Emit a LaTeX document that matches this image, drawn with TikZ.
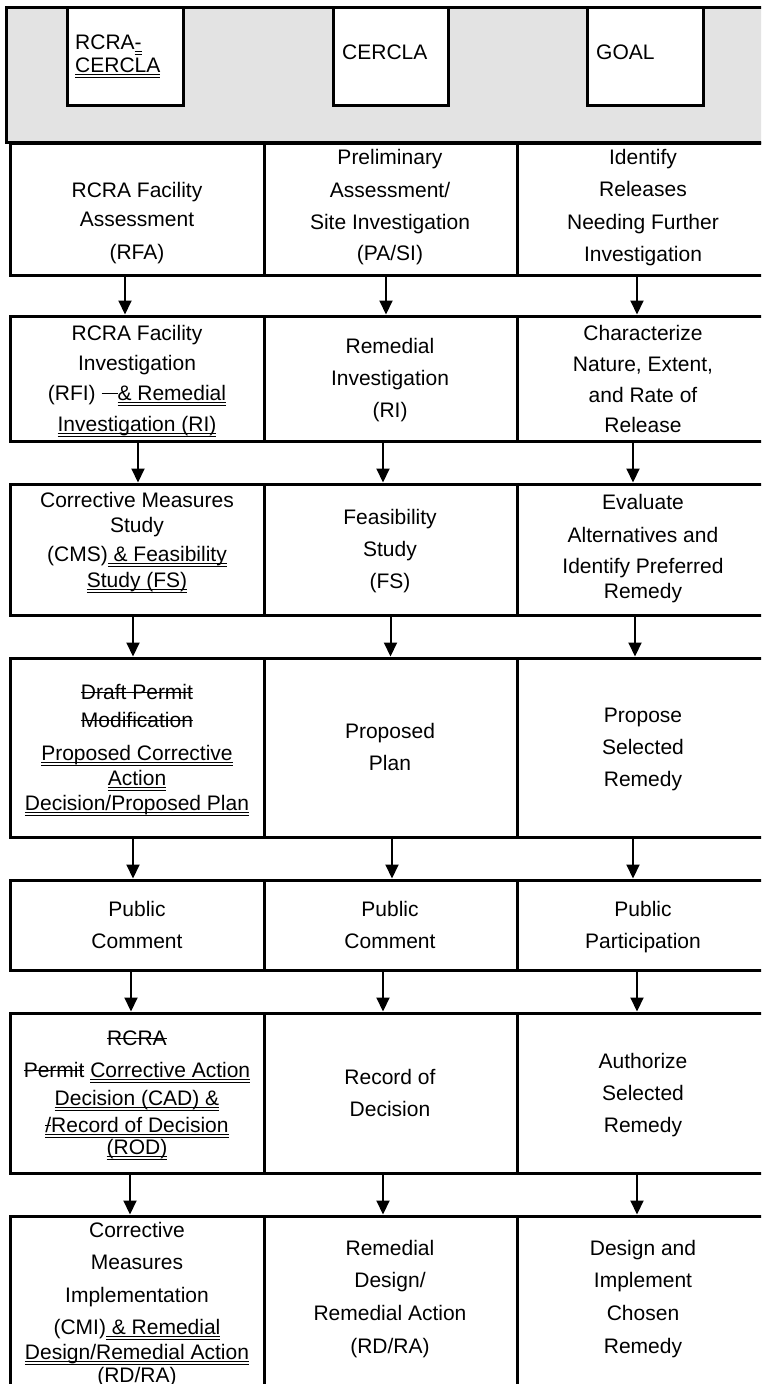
\documentclass[tikz,border=0pt]{standalone}
\usepackage{fontspec}
\setmainfont{Liberation Sans}
\usetikzlibrary{arrows.meta}
\definecolor{hdrgray}{RGB}{227,227,227}
\newsavebox\ulbox
\newcommand\uu[1]{\sbox\ulbox{#1}\rlap{\rule[-3pt]{\wd\ulbox}{0.8pt}}\rlap{\rule[-5.6pt]{\wd\ulbox}{0.8pt}}\usebox\ulbox}
\newcommand\so[1]{\sbox\ulbox{#1}\rlap{\rule[6pt]{\wd\ulbox}{0.9pt}}\usebox\ulbox}
\newcommand\mkbox[6]{\node[#1,minimum width={(#5)-(#3)},minimum height={(#6)-(#4)}] (#2) at ({((#3)+(#5))/2},{((#4)+(#6))/2}) {};}
\newcommand\tl[4]{\node[txt] (#1) at (#2,#3) {#4};}
\newcommand\strk{\rule[6pt]{16pt}{0.9pt}}
\begin{document}
\begin{tikzpicture}[x=1pt,y=-1pt,
  cell/.style={draw,line width=3pt,inner sep=0pt,outer sep=0pt,fill=white},
  hdrbox/.style={draw,line width=3pt,inner sep=0pt,outer sep=0pt,fill=hdrgray},
  txt/.style={anchor=base,inner sep=0pt,font=\fontsize{21}{25}\selectfont},
  htxt/.style={anchor=base west,inner sep=0pt,font=\fontsize{21}{25}\selectfont},
  arr/.style={line width=2pt,shorten >=1.5pt,-{Triangle[length=14pt,width=13pt]}}]
\useasboundingbox (0,0) rectangle (761,1384);
\clip (0,0) rectangle (761,1384);
% header
\mkbox{hdrbox}{hdr}{6}{7}{790}{142}
\mkbox{cell}{h1}{67}{7}{183}{105}
\mkbox{cell}{h2}{333}{7}{448}{105}
\mkbox{cell}{h3}{587}{7}{703}{105}
\node[htxt] (h1a) at (75,49) {RCRA\uu{-}};
\node[htxt] (h1b) at (75,72) {\uu{CERCLA}};
\node[htxt] (h2a) at (342,59) {CERCLA};
\node[htxt] (h3a) at (596,59) {GOAL};
% table cells
\foreach \r/\ya/\yb in {1/143/275,2/316/441,3/484/615,4/658/837,5/880/970,6/1013/1173,7/1216/1400}{
  \mkbox{cell}{r\r c1}{10}{\ya}{264}{\yb}
  \mkbox{cell}{r\r c2}{264}{\ya}{517}{\yb}
  \mkbox{cell}{r\r c3}{517}{\ya}{769}{\yb}
}
% arrows
\foreach \r/\n/\da/\db/\dc in {1/2/-12/-4.5/-6,2/3/1/-7.5/-10,3/4/-4/0/-8,4/5/-4/1.5/-10,5/6/-6/-7.5/-6,6/7/-7/-7.5/-6}{
  \draw[arr] ([xshift=\da pt]r\r c1.south) -- ([xshift=\da pt]r\n c1.north);
  \draw[arr] ([xshift=\db pt]r\r c2.south) -- ([xshift=\db pt]r\n c2.north);
  \draw[arr] ([xshift=\dc pt]r\r c3.south) -- ([xshift=\dc pt]r\n c3.north);
}
% row 1
\tl{t11a}{137}{197}{RCRA Facility}
\tl{t11b}{137}{226}{Assessment}
\tl{t11c}{137}{259}{(RFA)}
\tl{t12a}{390}{164}{Preliminary}
\tl{t12b}{390}{197}{Assessment/}
\tl{t12c}{390}{229}{Site Investigation}
\tl{t12d}{390}{260}{(PA/SI)}
\tl{t13a}{643}{164}{Identify}
\tl{t13b}{643}{196}{Releases}
\tl{t13c}{643}{229}{Needing Further}
\tl{t13d}{643}{261}{Investigation}
% row 2
\tl{t21a}{137}{340}{RCRA Facility}
\tl{t21b}{137}{370}{Investigation}
\tl{t21c}{137}{400}{(RFI) \strk\uu{\& Remedial}}
\tl{t21d}{137}{431}{\uu{Investigation (RI)}}
\tl{t22a}{390}{353}{Remedial}
\tl{t22b}{390}{385}{Investigation}
\tl{t22c}{390}{417}{(RI)}
\tl{t23a}{643}{340}{Characterize}
\tl{t23b}{643}{371}{Nature, Extent,}
\tl{t23c}{643}{402}{and Rate of}
\tl{t23d}{643}{432}{Release}
% row 3
\tl{t31a}{137}{507}{Corrective Measures}
\tl{t31b}{137}{532}{Study}
\tl{t31c}{137}{561}{(CMS)\uu{\ \& Feasibility}}
\tl{t31d}{137}{587}{\uu{Study (FS)}}
\tl{t32a}{390}{524}{Feasibility}
\tl{t32b}{390}{556}{Study}
\tl{t32c}{390}{588}{(FS)}
\tl{t33a}{643}{509}{Evaluate}
\tl{t33b}{643}{542}{Alternatives and}
\tl{t33c}{643}{573}{Identify Preferred}
\tl{t33d}{643}{598}{Remedy}
% row 4
\tl{t41a}{137}{699}{\so{Draft Permit}}
\tl{t41b}{137}{727}{\so{Modification}}
\tl{t41c}{137}{760}{\uu{Proposed Corrective}}
\tl{t41d}{137}{785}{\uu{Action}}
\tl{t41e}{137}{810}{\uu{Decision/Proposed Plan}}
\tl{t42a}{390}{738}{Proposed}
\tl{t42b}{390}{770}{Plan}
\tl{t43a}{643}{722}{Propose}
\tl{t43b}{643}{754}{Selected}
\tl{t43c}{643}{786}{Remedy}
% row 5
\tl{t51a}{137}{916}{Public}
\tl{t51b}{137}{948}{Comment}
\tl{t52a}{390}{916}{Public}
\tl{t52b}{390}{948}{Comment}
\tl{t53a}{643}{916}{Public}
\tl{t53b}{643}{948}{Participation}
% row 6
\tl{t61a}{137}{1045}{\so{RCRA}}
\tl{t61b}{137}{1077}{\so{Permit} \uu{Corrective Action}}
\tl{t61c}{137}{1105}{\uu{Decision (CAD) \&}}
\tl{t61d}{137}{1132}{\uu{\so{/}Record of Decision}}
\tl{t61e}{137}{1154}{\uu{(ROD)}}
\tl{t62a}{390}{1084}{Record of}
\tl{t62b}{390}{1116}{Decision}
\tl{t63a}{643}{1068}{Authorize}
\tl{t63b}{643}{1100}{Selected}
\tl{t63c}{643}{1132}{Remedy}
% row 7
\tl{t71a}{137}{1237}{Corrective}
\tl{t71b}{137}{1269}{Measures}
\tl{t71c}{137}{1302}{Implementation}
\tl{t71d}{137}{1334}{(CMI)\uu{\ \& Remedial}}
\tl{t71e}{137}{1359}{\uu{Design/Remedial Action}}
\tl{t71f}{137}{1382}{\uu{(RD/RA)}}
\tl{t72a}{390}{1255}{Remedial}
\tl{t72b}{390}{1287}{Design/}
\tl{t72c}{390}{1320}{Remedial Action}
\tl{t72d}{390}{1353}{(RD/RA)}
\tl{t73a}{643}{1255}{Design and}
\tl{t73b}{643}{1287}{Implement}
\tl{t73c}{643}{1320}{Chosen}
\tl{t73d}{643}{1353}{Remedy}
\end{tikzpicture}
\end{document}
